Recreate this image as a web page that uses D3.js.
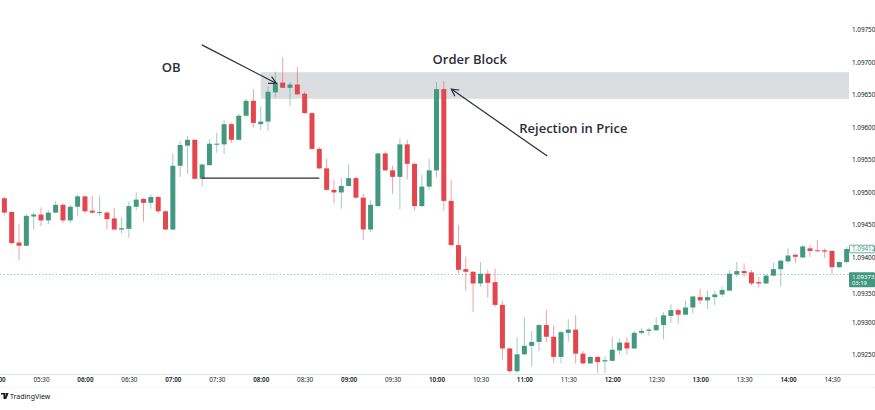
<!DOCTYPE html>
<html>
<head>
<meta charset="utf-8">
<script src="https://cdn.jsdelivr.net/npm/d3@7"></script>
<style>
  html, body { margin: 0; padding: 0; background: #ffffff; }
  svg { display: block; }
</style>
</head>
<body>
<svg id="chart" width="875" height="410"></svg>
<script>
// ---------------- DATA (EURUSD-like, 5 minute candles) ----------------
const firstCandle = "05:05";
const candleMinutes = 5;
const open  = [1.09490,1.09469,1.09422,1.09417,1.09462,1.09465,1.09456,1.09468,1.09480,1.09456,1.09477,1.09493,1.09471,1.09468,1.09468,1.09459,1.09442,1.09443,1.09477,1.09489,1.09483,1.09492,1.09470,1.09442,1.09540,1.09571,1.09580,1.09520,1.09541,1.09573,1.09573,1.09604,1.09580,1.09617,1.09640,1.09604,1.09608,1.09653,1.09668,1.09660,1.09665,1.09651,1.09621,1.09566,1.09536,1.09503,1.09499,1.09509,1.09521,1.09491,1.09442,1.09478,1.09559,1.09533,1.09523,1.09573,1.09543,1.09478,1.09508,1.09533,1.09658,1.09486,1.09418,1.09381,1.09377,1.09359,1.09374,1.09361,1.09326,1.09259,1.09224,1.09250,1.09263,1.09269,1.09295,1.09277,1.09246,1.09283,1.09288,1.09251,1.09236,1.09246,1.09239,1.09240,1.09256,1.09268,1.09259,1.09283,1.09286,1.09287,1.09295,1.09309,1.09318,1.09311,1.09322,1.09338,1.09333,1.09338,1.09342,1.09348,1.09373,1.09378,1.09376,1.09361,1.09359,1.09371,1.09381,1.09393,1.09403,1.09399,1.09413,1.09410,1.09410,1.09409,1.09384,1.09392];
const high  = [1.09492,1.09470,1.09450,1.09466,1.09468,1.09476,1.09472,1.09486,1.09482,1.09480,1.09496,1.09494,1.09494,1.09494,1.09470,1.09475,1.09461,1.09485,1.09499,1.09490,1.09496,1.09493,1.09471,1.09559,1.09578,1.09586,1.09581,1.09543,1.09581,1.09591,1.09610,1.09606,1.09620,1.09643,1.09658,1.09631,1.09662,1.09685,1.09707,1.09669,1.09692,1.09654,1.09623,1.09569,1.09551,1.09518,1.09521,1.09542,1.09523,1.09497,1.09487,1.09560,1.09562,1.09540,1.09582,1.09580,1.09545,1.09526,1.09551,1.09669,1.09670,1.09518,1.09449,1.09400,1.09378,1.09392,1.09380,1.09382,1.09333,1.09260,1.09276,1.09307,1.09286,1.09297,1.09318,1.09295,1.09286,1.09304,1.09310,1.09255,1.09247,1.09247,1.09247,1.09276,1.09274,1.09276,1.09286,1.09290,1.09291,1.09307,1.09315,1.09327,1.09320,1.09333,1.09339,1.09350,1.09348,1.09347,1.09354,1.09380,1.09392,1.09390,1.09380,1.09369,1.09373,1.09391,1.09395,1.09413,1.09405,1.09418,1.09418,1.09426,1.09413,1.09410,1.09393,1.09415];
const low   = [1.09464,1.09420,1.09395,1.09416,1.09442,1.09447,1.09450,1.09467,1.09452,1.09452,1.09463,1.09467,1.09466,1.09463,1.09442,1.09441,1.09436,1.09429,1.09472,1.09454,1.09474,1.09467,1.09441,1.09441,1.09523,1.09528,1.09519,1.09508,1.09540,1.09560,1.09558,1.09575,1.09579,1.09615,1.09599,1.09595,1.09594,1.09645,1.09660,1.09632,1.09649,1.09620,1.09565,1.09535,1.09502,1.09482,1.09474,1.09508,1.09489,1.09426,1.09438,1.09477,1.09532,1.09497,1.09473,1.09519,1.09471,1.09477,1.09503,1.09522,1.09471,1.09417,1.09374,1.09348,1.09315,1.09354,1.09337,1.09323,1.09242,1.09220,1.09220,1.09249,1.09231,1.09255,1.09269,1.09236,1.09236,1.09269,1.09236,1.09235,1.09235,1.09220,1.09219,1.09239,1.09250,1.09250,1.09258,1.09281,1.09279,1.09286,1.09273,1.09298,1.09297,1.09310,1.09313,1.09327,1.09320,1.09326,1.09338,1.09347,1.09369,1.09369,1.09356,1.09353,1.09358,1.09370,1.09354,1.09390,1.09390,1.09398,1.09400,1.09408,1.09398,1.09374,1.09383,1.09390];
const close = [1.09468,1.09421,1.09417,1.09463,1.09465,1.09456,1.09468,1.09480,1.09456,1.09477,1.09493,1.09470,1.09468,1.09469,1.09458,1.09442,1.09444,1.09478,1.09488,1.09483,1.09492,1.09470,1.09442,1.09540,1.09572,1.09580,1.09520,1.09542,1.09574,1.09574,1.09604,1.09580,1.09617,1.09640,1.09606,1.09608,1.09654,1.09668,1.09660,1.09665,1.09650,1.09621,1.09566,1.09536,1.09503,1.09499,1.09509,1.09521,1.09491,1.09442,1.09480,1.09559,1.09533,1.09523,1.09573,1.09543,1.09478,1.09508,1.09533,1.09658,1.09486,1.09418,1.09380,1.09377,1.09359,1.09374,1.09360,1.09326,1.09259,1.09224,1.09250,1.09263,1.09269,1.09295,1.09277,1.09246,1.09284,1.09288,1.09251,1.09236,1.09246,1.09238,1.09241,1.09257,1.09268,1.09259,1.09283,1.09286,1.09288,1.09295,1.09310,1.09318,1.09311,1.09322,1.09339,1.09333,1.09338,1.09342,1.09349,1.09374,1.09378,1.09375,1.09359,1.09359,1.09371,1.09381,1.09394,1.09402,1.09400,1.09416,1.09409,1.09409,1.09408,1.09384,1.09392,1.09412];

// axis ticks
const priceTicks = [1.09250,1.09300,1.09350,1.09400,1.09450,1.09500,1.09550,1.09600,1.09650,1.09700,1.09750];
const timeTickFirst = "05:00";
const timeTickLast = "14:30";

// annotations
const orderBlock = { from: "08:00", top: 1.09684, bottom: 1.09643 };
const supportLine = { from: "07:20", to: "08:40", price: 1.09521 };
const obArrow = { fromT: "07:19.8", fromP: 1.09726, toT: "08:10.5", toP: 1.09667 };
const rejArrow = { fromT: "11:15.6", fromP: 1.09555, toT: "10:10.1", toP: 1.09658 };
const labels = [
  { text: "OB", t: "06:52.4", p: 1.09684 },
  { text: "Order Block", t: "09:57.3", p: 1.09697 },
  { text: "Rejection in Price", t: "10:56.5", p: 1.09590 }
];
const lastPrice = 1.09412;
const linePrice = 1.09373;
const countdown = "03:19";

// ---------------- HELPERS ----------------
const day = [2024, 0, 2];
function tm(s) {
  const [h, mPart] = s.split(":");
  const m = parseFloat(mPart);
  return new Date(Date.UTC(day[0], day[1], day[2], +h, 0) + m * 60000);
}
const t0 = tm(firstCandle);
const candles = open.map((o, i) => ({
  t: new Date(+t0 + i * candleMinutes * 60000),
  o, h: high[i], l: low[i], c: close[i]
}));

// ---------------- SCALES ----------------
const W = 875, H = 410;
const plotRight = 849;
const x = d3.scaleUtc().domain([tm(timeTickFirst), tm(timeTickLast)]).range([-2.94, 832]);
const y = d3.scaleLinear().domain([1.0925, 1.0975]).range([354.3, 29.3]);

const UP = "#43997f", DOWN = "#e4464e";
const TXT = "#131722";
const FONT = "'Noto Sans', sans-serif";

const svg = d3.select("#chart");

svg.append("defs").append("clipPath").attr("id", "plotClip")
  .append("rect").attr("x", 0).attr("y", 0).attr("width", plotRight).attr("height", 373);

const plot = svg.append("g").attr("clip-path", "url(#plotClip)");

// order block zone
plot.append("rect")
  .attr("x", x(tm(orderBlock.from)))
  .attr("y", y(orderBlock.top))
  .attr("width", plotRight - x(tm(orderBlock.from)))
  .attr("height", y(orderBlock.bottom) - y(orderBlock.top))
  .attr("fill", "#dcdde1");

// dotted price line
plot.append("line")
  .attr("x1", 0).attr("x2", plotRight)
  .attr("y1", Math.round(y(linePrice)) + 0.5).attr("y2", Math.round(y(linePrice)) + 0.5)
  .attr("stroke", "#9cc7bb").attr("stroke-width", 1).attr("stroke-dasharray", "1.5,2");

// candles
const bw = 5;
const cg = plot.append("g");
cg.selectAll("line.wick").data(candles).join("line")
  .attr("class", "wick")
  .attr("x1", d => x(d.t)).attr("x2", d => x(d.t))
  .attr("y1", d => y(d.h)).attr("y2", d => y(d.l))
  .attr("stroke", d => d.c >= d.o ? UP : DOWN)
  .attr("stroke-opacity", 0.5)
  .attr("stroke-width", 1);
cg.selectAll("rect.body").data(candles).join("rect")
  .attr("class", "body")
  .attr("x", d => x(d.t) - bw / 2)
  .attr("y", d => y(Math.max(d.o, d.c)))
  .attr("width", bw)
  .attr("height", d => Math.max(1, Math.abs(y(d.o) - y(d.c))))
  .attr("fill", d => d.c >= d.o ? UP : DOWN);

// support line
plot.append("line")
  .attr("x1", x(tm(supportLine.from))).attr("x2", x(tm(supportLine.to)))
  .attr("y1", y(supportLine.price)).attr("y2", y(supportLine.price))
  .attr("stroke", "#2a2e39").attr("stroke-width", 1.2);

// arrows
function arrow(a) {
  const x1 = x(tm(a.fromT)), y1 = y(a.fromP), x2 = x(tm(a.toT)), y2 = y(a.toP);
  const g = plot.append("g").attr("stroke", "#2a2e39").attr("stroke-width", 1.2).attr("fill", "none");
  g.append("line").attr("x1", x1).attr("y1", y1).attr("x2", x2).attr("y2", y2);
  const ang = Math.atan2(y1 - y2, x1 - x2);
  const L = 8, sp = 0.5;
  g.append("path").attr("d",
    `M${x2 + L * Math.cos(ang + sp)},${y2 + L * Math.sin(ang + sp)} L${x2},${y2} L${x2 + L * Math.cos(ang - sp)},${y2 + L * Math.sin(ang - sp)}`);
}
arrow(obArrow);
arrow(rejArrow);

// annotation labels
svg.selectAll("text.ann").data(labels).join("text")
  .attr("class", "ann")
  .attr("x", d => x(tm(d.t)))
  .attr("y", d => y(d.p))
  .attr("font-family", "'Open Sans', sans-serif")
  .attr("font-weight", 600)
  .attr("font-size", 13)
  .attr("fill", "#2a2e39")
  .text(d => d.text);

// ---------------- AXES ----------------
svg.append("line").attr("x1", 0).attr("x2", W).attr("y1", 374.5).attr("y2", 374.5)
  .attr("stroke", "#e0e3eb").attr("stroke-width", 1);
svg.append("line").attr("x1", 0).attr("x2", W).attr("y1", 387.5).attr("y2", 387.5)
  .attr("stroke", "#eef0f4").attr("stroke-width", 1).attr("stroke-dasharray", "1,1");

const xAxis = d3.axisBottom(x)
  .ticks(d3.utcMinute.every(30))
  .tickFormat(d3.utcFormat("%H:%M"))
  .tickSize(0).tickPadding(0);
const gx = svg.append("g").attr("transform", "translate(0,378)").call(xAxis);
gx.select(".domain").remove();
gx.selectAll("text")
  .attr("font-family", FONT)
  .attr("font-size", 6.3)
  .attr("fill", TXT)
  .attr("dy", "0.71em")
  .attr("font-weight", d => d.getUTCMinutes() === 0 ? 600 : 400);

// right price axis
const yAxis = d3.axisRight(y).tickValues(priceTicks).tickFormat(d3.format(".5f")).tickSize(0).tickPadding(0);
const gy = svg.append("g").attr("transform", "translate(852,0)").call(yAxis);
gy.select(".domain").remove();
gy.selectAll("text")
  .attr("font-family", FONT)
  .attr("font-size", 6.3)
  .attr("fill", TXT)
  .attr("dy", "0.35em");
// 1.09350 label is pushed below the price-line label
gy.selectAll(".tick").filter(d => Math.abs(d - 1.0935) < 1e-7)
  .attr("transform", `translate(0,${y(1.0935) + 4.5})`);

// last price label (outlined)
const lpY = y(lastPrice);
svg.append("rect").attr("x", 849.5).attr("y", lpY - 3.8).attr("width", 25).attr("height", 7.6)
  .attr("fill", "#ffffff").attr("stroke", UP).attr("stroke-width", 0.8).attr("rx", 1);
svg.append("text").attr("x", 852).attr("y", lpY).attr("dy", "0.35em")
  .attr("font-family", FONT).attr("font-size", 6.3).attr("fill", UP)
  .text(d3.format(".5f")(lastPrice));

// price line label with countdown (filled)
const plY = y(linePrice);
svg.append("rect").attr("x", 849).attr("y", plY - 2).attr("width", 26).attr("height", 15)
  .attr("fill", UP).attr("rx", 1);
svg.append("text").attr("x", 852).attr("y", plY + 4.2)
  .attr("font-family", FONT).attr("font-size", 6.1).attr("fill", "#ffffff")
  .text(d3.format(".5f")(linePrice));
svg.append("text").attr("x", 852).attr("y", plY + 11)
  .attr("font-family", FONT).attr("font-size", 5.8).attr("fill", "#ffffff")
  .text(countdown);

// TradingView watermark
const wm = svg.append("g").attr("transform", "translate(1,392)");
wm.append("path").attr("d", "M0,1 H4 V7 H2.5 V2.5 H0 Z M4.6,1 H7.6 L5.3,7 H3.9 Z").attr("fill", "#131722");
wm.append("text").attr("x", 9).attr("y", 6.8)
  .attr("font-family", FONT).attr("font-size", 7).attr("fill", "#131722")
  .text("TradingView");
</script>
</body>
</html>
